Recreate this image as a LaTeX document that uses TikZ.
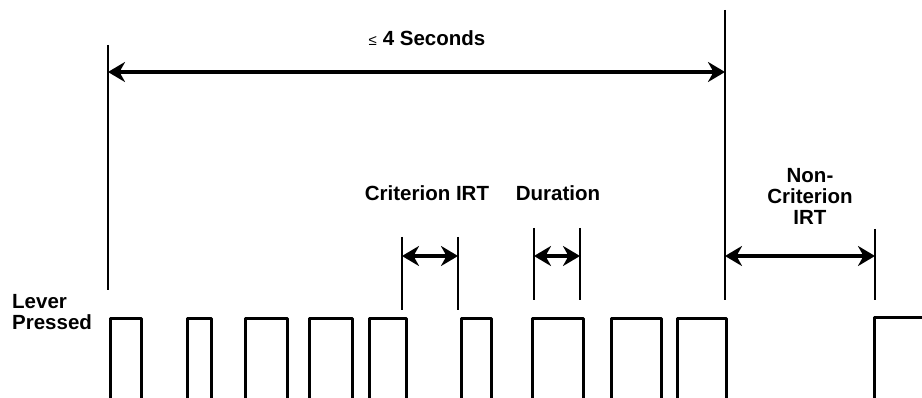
\documentclass[tikz,border=0pt]{standalone}
\usepackage{fontspec}
\setmainfont{Liberation Sans}
\usetikzlibrary{arrows.meta}
\begin{document}
\begin{tikzpicture}[x=1pt,y=-1pt,
  pulse/.style={line width=3pt, line join=round},
  guide/.style={line width=1.6pt},
  span/.style={line width=3.4pt,
    {Stealth[length=17pt,width=20pt,inset=5.5pt]}-{Stealth[length=17pt,width=20pt,inset=5.5pt]}},
  lbl/.style={font=\fontsize{20.5}{22}\selectfont\bfseries, inner sep=0pt, align=center}]
\useasboundingbox (0,0) rectangle (922,398);

% lever-press trace: each pulse is one press
\foreach \a/\b in {110/141, 187/211, 245/287, 309/352, 369/406,
                   461/491, 532/583, 611/661, 677/726}
  \draw[pulse] (\a,402) -- (\a,319) -- (\b,319) -- (\b,402);
\draw[pulse] (874,402) -- (874,318) -- (925,318);

% guide lines
\coordinate (Ltop) at (108,45);   \coordinate (Lbot) at (108,290);
\coordinate (Rtop) at (725,10);   \coordinate (Rbot) at (725,300);
\coordinate (C1top) at (402,237); \coordinate (C1bot) at (402,310);
\coordinate (C2top) at (458,237); \coordinate (C2bot) at (458,310);
\coordinate (D1top) at (534,228); \coordinate (D1bot) at (534,300);
\coordinate (D2top) at (580,228); \coordinate (D2bot) at (580,300);
\coordinate (Ntop) at (875,229);  \coordinate (Nbot) at (875,300);
\draw[guide] (Ltop) -- (Lbot);
\draw[guide] (Rtop) -- (Rbot);
\draw[guide] (C1top) -- (C1bot);
\draw[guide] (C2top) -- (C2bot);
\draw[guide] (D1top) -- (D1bot);
\draw[guide] (D2top) -- (D2bot);
\draw[guide] (Ntop) -- (Nbot);

% interval arrows
\coordinate (Sa) at (108,72);  \coordinate (Sb) at (725,72);
\coordinate (Ca) at (402,256); \coordinate (Cb) at (458,256);
\coordinate (Da) at (534,256); \coordinate (Db) at (580,256);
\coordinate (Na) at (725,256); \coordinate (Nb) at (875,256);
\draw[span] (Sa) -- (Sb);
\draw[span] (Ca) -- (Cb);
\draw[span] (Da) -- (Db);
\draw[span] (Na) -- (Nb);

% labels
\node[lbl, anchor=base] (secs) at (427,46)
  {{\fontsize{15}{15}\selectfont\mdseries ≤}\hspace{6pt}4 Seconds};
\node[lbl, anchor=base] (crit) at (427,201) {Criterion IRT};
\node[lbl, anchor=base] (dur) at (558,201) {Duration};
\node[lbl, anchor=base] (non1) at (810,183) {Non-};
\node[lbl, anchor=base] (non2) at (810,204) {Criterion};
\node[lbl, anchor=base] (non3) at (810,225) {IRT};
\node[lbl, anchor=base west] (lev) at (12,309) {Lever};
\node[lbl, anchor=base west] (pre) at (12,330) {Pressed};
\end{tikzpicture}
\end{document}
